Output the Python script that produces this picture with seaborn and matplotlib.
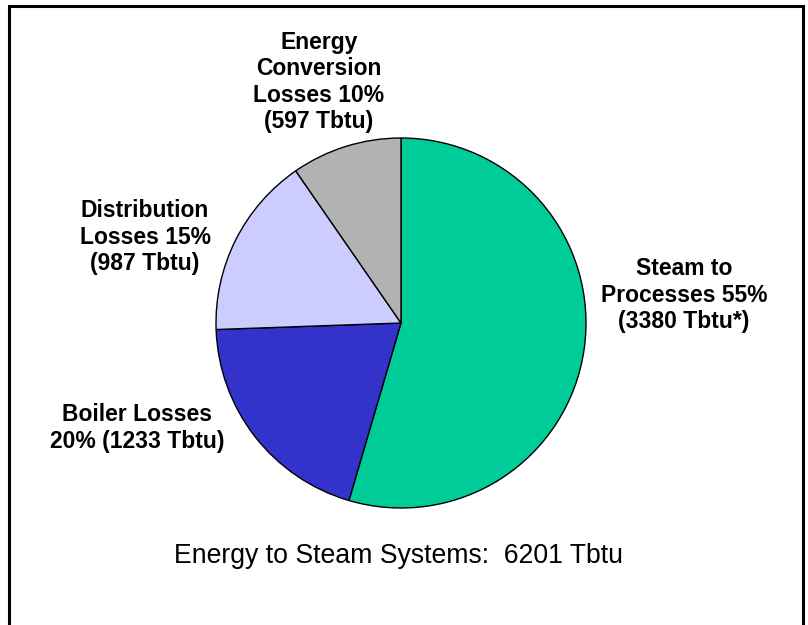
import matplotlib
matplotlib.use('Agg')
import matplotlib.pyplot as plt
import seaborn as sns
from matplotlib.lines import Line2D

# Dane
segments = ['Steam to\nProcesses 55%\n(3380 Tbtu*)',
            'Boiler Losses\n20% (1233 Tbtu)',
            'Distribution\nLosses 15%\n(987 Tbtu)',
            'Energy\nConversion\nLosses 10%\n(597 Tbtu)']
values = [3380, 1233, 987, 597]
colors = ['#00CC99', '#3333CC', '#CCCCFF', '#B2B2B2']
title = 'Energy to Steam Systems:  6201 Tbtu'

W, H = 808, 625

sns.set_theme(style='white')
plt.rcParams['font.family'] = ['Liberation Sans', 'DejaVu Sans']
plt.rcParams['text.color'] = 'black'

fig = plt.figure(figsize=(W / 100, H / 100), dpi=100)
fig.patch.set_facecolor('white')

# os kola: srodek (401, 323), promien 185 px
cx, cy, r = 401, 323, 185
ax = fig.add_axes([(cx - r) / W, (H - cy - r) / H, 2 * r / W, 2 * r / H])
ax.pie(values, colors=colors, startangle=90, counterclock=False,
       wedgeprops=dict(edgecolor='black', linewidth=1.0))
ax.set_xlim(-1, 1)
ax.set_ylim(-1, 1)
ax.set_aspect('auto')
ax.axis('off')

# etykiety (pozycje w pikselach)
label_pos = [(684, 295), (137, 428), (145, 237), (319, 82)]
for text, (x, y) in zip(segments, label_pos):
    fig.text(x / W, 1 - y / H, text, ha='center', va='center', multialignment='center',
             fontsize=16.5, fontweight='bold', linespacing=1.2, color='black')

fig.text(399 / W, 1 - 556 / H, title, ha='center', va='center', fontsize=19.2, color='black')

# ramka (bez dolnej krawedzi)
frame_x = [9 / W, 9 / W, 803 / W, 803 / W]
frame_y = [0, 1 - 6 / H, 1 - 6 / H, 0]
fig.add_artist(Line2D(frame_x, frame_y, color='black', linewidth=2.2,
                      transform=fig.transFigure, solid_joinstyle='miter'))

fig.savefig('out.png', dpi=100, facecolor='white')
